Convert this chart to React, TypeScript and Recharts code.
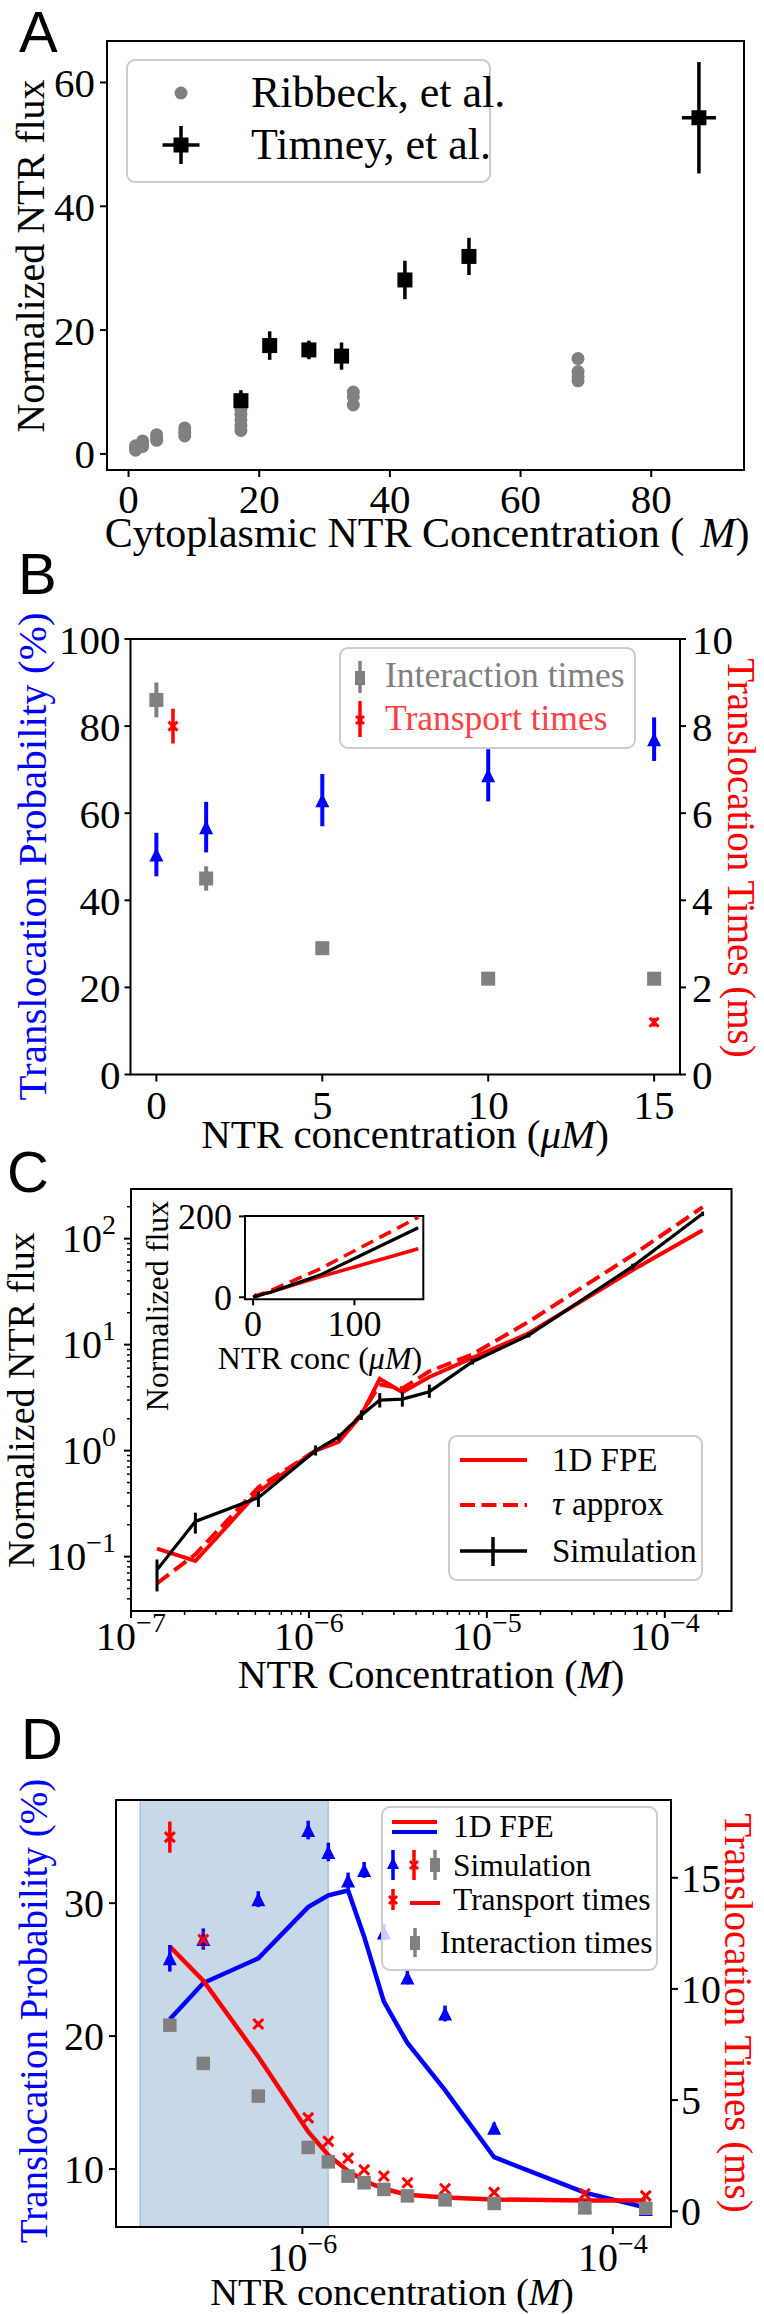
import React from 'react';
import { ComposedChart, Scatter, Line, XAxis, YAxis, ErrorBar, ReferenceArea } from 'recharts';

const SERIF = '"Liberation Serif", "Times New Roman", Times, serif';
const SANS = '"Liberation Sans", Arial, Helvetica, sans-serif';
const BLUE = '#0000ff';
const RED = '#ff0000';
const GRAY = '#808080';

// ---------- panel A: measured flux vs cytoplasmic NTR (uM)
const ribbeckConc = [1.075, 1.075, 1.075, 2.15, 2.15, 2.15, 4.3, 4.3, 4.3, 8.6, 8.6, 8.6, 17.2, 17.2, 17.2, 17.2, 17.2, 34.4, 34.4, 34.4, 68.8, 68.8, 68.8, 68.8];
const ribbeckFlux = [0.6, 1.0, 1.3, 1.2, 1.6, 2.1, 2.2, 2.6, 3.1, 2.9, 3.5, 4.2, 3.8, 4.6, 5.5, 6.4, 7.2, 7.9, 9.2, 10.0, 11.8, 12.5, 13.3, 15.4];
const timneyConc = [17.2, 21.6, 27.6, 32.6, 42.3, 52.1, 87.3];
const timneyConcErr = [0.6, 0.6, 0.6, 0.6, 0.6, 0.6, 2.6];
const timneyFlux = [8.6, 17.5, 16.8, 15.8, 28.1, 31.9, 54.3];
const timneyFluxErr = [1.7, 2.3, 1.5, 2.2, 3.1, 3.0, 9.0];

// ---------- panel B: probability (%) and times (ms) vs NTR (uM)
const concB = [0, 1.5, 5, 10, 15];
const probB = [50.5, 56.8, 63, 68.7, 77];
const probErrB = [5, 5.8, 6, 6, 5];
const interB = [8.6, 4.5, 2.9, 2.2, 2.2];
const interErrB = [0.4, 0.28, 0.1, 0.12, 0.05];
const transConcB = [0.5, 15];
const transB = [8.0, 1.2];
const transErrB = [0.4, 0.1];

// ---------- panels C & D share the simulated concentrations (M)
const concM = [1.4e-7, 2.3e-7, 5.2e-7, 1.09e-6, 1.47e-6, 1.97e-6, 2.5e-6, 3.35e-6, 4.75e-6, 8.3e-6, 1.72e-5, 6.6e-5, 1.63e-4];

// C: normalized flux
const simFlux = [0.075, 0.215, 0.36, 1.0, 1.35, 2.16, 3.0, 3.06, 3.6, 6.9, 12.3, 54.8, 172];
const simLo = [0.047, 0.165, 0.295, 0.9, 1.24, 1.95, 2.55, 2.6, 3.15, 6.5, 11.7, 51, 163];
const simHi = [0.094, 0.26, 0.41, 1.12, 1.45, 2.4, 3.5, 3.55, 4.2, 7.3, 12.9, 58, 180];
const fpeFlux = [0.119, 0.091, 0.41, 1.0, 1.21, 2.16, 4.75, 3.56, 4.95, 7.5, 12.8, 50.5, 120];
const tauFlux = [0.056, 0.105, 0.45, 1.0, 1.31, 2.2, 4.2, 3.86, 5.6, 8.1, 16.5, 70, 198];
const cMajorX = [1e-7, 1e-6, 1e-5, 1e-4];
const cMajorY = [0.1, 1, 10, 100];

// D: probability (%) and times (ms)
const probD = [25.85, 27.3, 30.3, 35.5, 33.85, 31.7, 32.5, 27.8, 24.4, 21.7, 13.1, 7.2, 7.0];
const probErrD = [1.0, 0.8, 0.6, 0.7, 0.7, 0.6, 0.6, 0.6, 0.5, 0.6, 0.4, 0.3, 0.3];
const fpeProbD = [21.26, 23.99, 25.85, 29.7, 30.59, 30.95, 27.48, 22.59, 19.48, 15.93, 10.89, 8.22, 7.1];
const fpeTimeD = [11.91, 10.37, 6.95, 3.58, 2.52, 1.81, 1.37, 1.01, 0.74, 0.62, 0.53, 0.48, 0.48];
const transD = [16.83, 12.22, 8.42, 4.2, 3.14, 2.39, 1.86, 1.58, 1.28, 1.01, 0.85, 0.78, 0.69];
const transErrD = [0.7, 0.35, 0.12, 0.12, 0.1, 0.1, 0.08, 0.08, 0.06, 0.06, 0.05, 0.05, 0.05];
const interD = [8.37, 6.65, 5.18, 2.87, 2.22, 1.58, 1.28, 0.98, 0.69, 0.51, 0.35, 0.15, 0.13];
const interErrD = [0.12, 0.1, 0.1, 0.08, 0.06, 0.05, 0.05, 0.04, 0.04, 0.03, 0.03, 0.03, 0.03];
const shadeD = [9e-8, 1.47e-6];
const dMajorX = [1e-6, 1e-4];

// ---------- helpers
const zip = (xs: number[], ys: number[], extra: Record<string, any[]> = {}) =>
  xs.map((x, i) => {
    const o: any = { x, y: ys[i] };
    Object.keys(extra).forEach((k) => (o[k] = extra[k][i]));
    return o;
  });

const withMinors = (majors: number[], lo: number, hi: number) => {
  const out: number[] = [];
  [majors[0] / 10, ...majors].forEach((m) => {
    for (let k = 1; k < 10; k++) {
      const v = m * k;
      if (v >= lo * 0.9999 && v <= hi) out.push(v);
    }
  });
  return out;
};

const sq = (cx: number, cy: number, s: number, c: string) => <rect x={cx - s / 2} y={cy - s / 2} width={s} height={s} fill={c} />;
const tri = (cx: number, cy: number, s: number, c: string) => (
  <path d={`M${cx},${cy - s / 2}L${cx + s / 2},${cy + s / 2}L${cx - s / 2},${cy + s / 2}Z`} fill={c} />
);
const xm = (cx: number, cy: number, s: number, c: string, w = 3) => (
  <path d={`M${cx - s / 2},${cy - s / 2}L${cx + s / 2},${cy + s / 2}M${cx - s / 2},${cy + s / 2}L${cx + s / 2},${cy - s / 2}`} stroke={c} strokeWidth={w} fill="none" />
);
const shape = (draw: (cx: number, cy: number) => React.ReactElement) => (p: any) =>
  p.cx == null || p.cy == null ? <g /> : draw(p.cx, p.cy);

const tickFont = (size: number) => ({ fontSize: size, fontFamily: SERIF, fill: '#000' });

function LogTick(props: any) {
  const { x, y, payload, side, size, labelOff } = props;
  const v = payload.value;
  const ex = Math.log10(v);
  const major = Math.abs(ex - Math.round(ex)) < 1e-6;
  const len = major ? 7 : 4;
  const e = Math.round(ex);
  const expText = e < 0 ? '\u2212' + Math.abs(e) : String(e);
  if (side === 'bottom') {
    const ay = y - 11;
    return (
      <g>
        <line x1={x} x2={x} y1={ay} y2={ay + len} stroke="#000" strokeWidth={major ? 2 : 1.5} />
        {major && (
          <text x={x} y={ay + labelOff} textAnchor="middle" fontFamily={SERIF} fontSize={size} fill="#000">
            10<tspan dy={-size * 0.45} fontSize={size * 0.7}>{expText}</tspan>
          </text>
        )}
      </g>
    );
  }
  const ax = x + 11;
  return (
    <g>
      <line x1={ax} x2={ax - len} y1={y} y2={y} stroke="#000" strokeWidth={major ? 2 : 1.5} />
      {major && (
        <text x={ax - labelOff} y={y + size * 0.33} textAnchor="end" fontFamily={SERIF} fontSize={size} fill="#000">
          10<tspan dy={-size * 0.45} fontSize={size * 0.7}>{expText}</tspan>
        </text>
      )}
    </g>
  );
}

// ---------- panel A
const ribbeckPts = zip(ribbeckConc, ribbeckFlux);
const timneyPts = zip(timneyConc, timneyFlux, { ex: timneyConcErr, ey: timneyFluxErr });

function PanelA() {
  const xd: [number, number] = [-3.3, 94.2];
  const yd: [number, number] = [-2.6, 66.7];
  return (
    <ComposedChart width={764} height={560} margin={{ top: 41, right: 20, bottom: 30, left: 27 }}>
      <XAxis type="number" dataKey="x" domain={xd} ticks={[0, 20, 40, 60, 80]} allowDataOverflow interval={0} height={60}
        tickSize={7} tickMargin={7} axisLine={false} stroke="#000" tickLine={{ stroke: '#000', strokeWidth: 2 }} tick={tickFont(41)} />
      <YAxis yAxisId="l" type="number" dataKey="y" domain={yd} ticks={[0, 20, 40, 60]} allowDataOverflow interval={0} width={80}
        tickSize={7} tickMargin={5} axisLine={false} stroke="#000" tickLine={{ stroke: '#000', strokeWidth: 2 }} tick={tickFont(41)} />
      <ReferenceArea yAxisId="l" x1={xd[0]} x2={xd[1]} y1={yd[0]} y2={yd[1]} fill="none" stroke="#000" strokeWidth={2} />
      <Scatter yAxisId="l" data={ribbeckPts} isAnimationActive={false} shape={shape((cx, cy) => <circle cx={cx} cy={cy} r={6.5} fill={GRAY} />)} />
      <Scatter yAxisId="l" data={timneyPts} isAnimationActive={false} shape={shape((cx, cy) => sq(cx, cy, 15, '#000'))}>
        <ErrorBar dataKey="ex" direction="x" width={0} stroke="#000" strokeWidth={3.5} />
        <ErrorBar dataKey="ey" direction="y" width={0} stroke="#000" strokeWidth={3.5} />
      </Scatter>
    </ComposedChart>
  );
}

// ---------- panel B
const probPtsB = zip(concB, probB, { err: probErrB });
const interPtsB = zip(concB, interB, { err: interErrB });
const transPtsB = zip(transConcB, transB, { err: transErrB });

function PanelB() {
  const xd: [number, number] = [-0.78, 15.78];
  return (
    <ComposedChart width={764} height={610} margin={{ top: 79, right: 24, bottom: 55.5, left: 40.5 }}>
      <XAxis type="number" dataKey="x" domain={xd} ticks={[0, 5, 10, 15]} allowDataOverflow interval={0} height={40}
        tickSize={7} tickMargin={8} axisLine={false} stroke="#000" tickLine={{ stroke: '#000', strokeWidth: 2 }} tick={tickFont(41)} />
      <YAxis yAxisId="l" type="number" dataKey="y" domain={[0, 100]} ticks={[0, 20, 40, 60, 80, 100]} allowDataOverflow interval={0} width={90}
        tickSize={6} tickMargin={4} axisLine={false} stroke="#000" tickLine={{ stroke: '#000', strokeWidth: 2 }} tick={tickFont(41)} />
      <YAxis yAxisId="r" orientation="right" type="number" dataKey="y" domain={[0, 10]} ticks={[0, 2, 4, 6, 8, 10]} allowDataOverflow interval={0} width={60}
        tickSize={6} tickMargin={6} axisLine={false} stroke="#000" tickLine={{ stroke: '#000', strokeWidth: 2 }} tick={tickFont(41)} />
      <ReferenceArea yAxisId="l" x1={xd[0]} x2={xd[1]} y1={0} y2={100} fill="none" stroke="#000" strokeWidth={2} />
      <Scatter yAxisId="l" data={probPtsB} isAnimationActive={false} shape={shape((cx, cy) => tri(cx, cy, 14, BLUE))}>
        <ErrorBar dataKey="err" direction="y" width={0} stroke={BLUE} strokeWidth={4} />
      </Scatter>
      <Scatter yAxisId="r" data={interPtsB} isAnimationActive={false} shape={shape((cx, cy) => sq(cx, cy, 14, GRAY))}>
        <ErrorBar dataKey="err" direction="y" width={0} stroke={GRAY} strokeWidth={4} />
      </Scatter>
      <Scatter yAxisId="r" data={transPtsB} isAnimationActive={false} shape={shape((cx, cy) => xm(cx, cy, 9, RED, 3))}>
        <ErrorBar dataKey="err" direction="y" width={0} stroke={RED} strokeWidth={3.5} />
      </Scatter>
    </ComposedChart>
  );
}

// ---------- panel C
const simPts = zip(concM, simFlux, { err: simFlux.map((v, i) => [v - simLo[i], simHi[i] - v]) });
const fpePts = zip(concM, fpeFlux);
const tauPts = zip(concM, tauFlux);
const inUM = concM.map((c) => c * 1e6);
const simInset = zip(inUM, simFlux);
const fpeInset = zip(inUM, fpeFlux);
const tauInset = zip(inUM, tauFlux);

function PanelC() {
  const xd: [number, number] = [1e-7, 2.37e-4];
  const yd: [number, number] = [0.0307, 294];
  return (
    <ComposedChart width={764} height={600} margin={{ top: 79, right: 32.5, bottom: 39, left: 31 }}>
      <XAxis type="number" dataKey="x" scale="log" domain={xd} ticks={withMinors(cMajorX, xd[0], xd[1])} allowDataOverflow interval={0}
        height={60} tickSize={7} tickMargin={4} axisLine={false} tickLine={false} tick={<LogTick side="bottom" size={40} labelOff={39} />} />
      <YAxis yAxisId="l" type="number" dataKey="y" scale="log" domain={yd} ticks={withMinors(cMajorY, yd[0], yd[1])} allowDataOverflow interval={0}
        width={100} tickSize={7} tickMargin={4} axisLine={false} tickLine={false} tick={<LogTick side="left" size={40} labelOff={15} />} />
      <ReferenceArea yAxisId="l" x1={xd[0]} x2={xd[1]} y1={yd[0]} y2={yd[1]} fill="none" stroke="#000" strokeWidth={2} />
      <Line yAxisId="l" data={fpePts} dataKey="y" type="linear" stroke={RED} strokeWidth={4} dot={false} isAnimationActive={false} />
      <Line yAxisId="l" data={tauPts} dataKey="y" type="linear" stroke={RED} strokeWidth={4} strokeDasharray="15 6.5" dot={false} isAnimationActive={false} />
      <Line yAxisId="l" data={simPts} dataKey="y" type="linear" stroke="#000" strokeWidth={3.2} dot={false} isAnimationActive={false}>
        <ErrorBar dataKey="err" direction="y" width={0} stroke="#000" strokeWidth={3} />
      </Line>
    </ComposedChart>
  );
}

function InsetC() {
  const xd: [number, number] = [-8, 168];
  const yd: [number, number] = [-5, 201];
  return (
    <ComposedChart width={300} height={190} margin={{ top: 26, right: 26.7, bottom: 40.7, left: 45 }}>
      <XAxis type="number" dataKey="x" domain={xd} ticks={[0, 100]} allowDataOverflow interval={0} height={40}
        tickSize={6} tickMargin={5} axisLine={false} stroke="#000" tickLine={{ stroke: '#000', strokeWidth: 2 }} tick={tickFont(36)} />
      <YAxis yAxisId="l" type="number" dataKey="y" domain={yd} ticks={[0, 200]} allowDataOverflow interval={0} width={50}
        tickSize={6} tickMargin={7} axisLine={false} stroke="#000" tickLine={{ stroke: '#000', strokeWidth: 2 }} tick={tickFont(36)} />
      <ReferenceArea yAxisId="l" x1={xd[0]} x2={xd[1]} y1={yd[0]} y2={yd[1]} fill="none" stroke="#000" strokeWidth={2} />
      <Line yAxisId="l" data={fpeInset} dataKey="y" type="linear" stroke={RED} strokeWidth={3.5} dot={false} isAnimationActive={false} />
      <Line yAxisId="l" data={tauInset} dataKey="y" type="linear" stroke={RED} strokeWidth={3.5} strokeDasharray="13 7" dot={false} isAnimationActive={false} />
      <Line yAxisId="l" data={simInset} dataKey="y" type="linear" stroke="#000" strokeWidth={3.2} dot={false} isAnimationActive={false} />
    </ComposedChart>
  );
}

// ---------- panel D
const probPtsD = zip(concM, probD, { err: probErrD });
const fpeProbPts = zip(concM, fpeProbD);
const fpeTimePts = zip(concM, fpeTimeD);
const transPtsD = zip(concM, transD, { err: transErrD });
const interPtsD = zip(concM, interD, { err: interErrD });

function PanelD() {
  const xd: [number, number] = [6.3e-8, 2.37e-4];
  const yl: [number, number] = [5.64, 37.76];
  return (
    <ComposedChart width={764} height={614} margin={{ top: 100, right: 33, bottom: 37, left: 26 }}>
      <XAxis type="number" dataKey="x" scale="log" domain={xd} ticks={dMajorX} allowDataOverflow interval={0}
        height={50} tickSize={7} tickMargin={4} axisLine={false} tickLine={false} tick={<LogTick side="bottom" size={40} labelOff={44} />} />
      <YAxis yAxisId="l" type="number" dataKey="y" domain={yl} ticks={[10, 20, 30]} allowDataOverflow interval={0} width={90}
        tickSize={7} tickMargin={5} axisLine={false} stroke="#000" tickLine={{ stroke: '#000', strokeWidth: 2 }} tick={tickFont(40)} />
      <YAxis yAxisId="r" orientation="right" type="number" dataKey="y" domain={[-0.71, 18.5]} ticks={[0, 5, 10, 15]} allowDataOverflow interval={0} width={60}
        tickSize={7} tickMargin={3} axisLine={false} stroke="#000" tickLine={{ stroke: '#000', strokeWidth: 2 }} tick={tickFont(40)} />
      <ReferenceArea yAxisId="l" x1={shadeD[0]} x2={shadeD[1]} y1={yl[0]} y2={yl[1]} fill="#4682b4" fillOpacity={0.3} stroke="#4682b4" strokeOpacity={0.35} strokeWidth={1.5} />
      <ReferenceArea yAxisId="l" x1={xd[0]} x2={xd[1]} y1={yl[0]} y2={yl[1]} fill="none" stroke="#000" strokeWidth={2} />
      <Line yAxisId="l" data={fpeProbPts} dataKey="y" type="linear" stroke={BLUE} strokeWidth={4.5} dot={false} isAnimationActive={false} />
      <Line yAxisId="r" data={fpeTimePts} dataKey="y" type="linear" stroke={RED} strokeWidth={4.5} dot={false} isAnimationActive={false} />
      <Scatter yAxisId="l" data={probPtsD} isAnimationActive={false} shape={shape((cx, cy) => tri(cx, cy, 14, BLUE))}>
        <ErrorBar dataKey="err" direction="y" width={0} stroke={BLUE} strokeWidth={3.5} />
      </Scatter>
      <Scatter yAxisId="r" data={transPtsD} isAnimationActive={false} shape={shape((cx, cy) => xm(cx, cy, 10, RED, 3))}>
        <ErrorBar dataKey="err" direction="y" width={0} stroke={RED} strokeWidth={3.5} />
      </Scatter>
      <Scatter yAxisId="r" data={interPtsD} isAnimationActive={false} shape={shape((cx, cy) => sq(cx, cy, 13.5, GRAY))}>
        <ErrorBar dataKey="err" direction="y" width={0} stroke={GRAY} strokeWidth={3.5} />
      </Scatter>
    </ComposedChart>
  );
}

// ---------- text + legends overlay
const T = (p: { x: number; y: number; rot?: number; size: number; color?: string; anchor?: string; family?: string; children: React.ReactNode }) => (
  <text transform={`translate(${p.x},${p.y}) rotate(${p.rot || 0})`} textAnchor={p.anchor || 'middle'} fontFamily={p.family || SERIF}
    fontSize={p.size} fill={p.color || '#000'}>{p.children}</text>
);
const LBox = ({ x, y, w, h }: { x: number; y: number; w: number; h: number }) => (
  <rect x={x} y={y} width={w} height={h} rx={8} fill="#fff" fillOpacity={0.8} stroke="#cccccc" strokeWidth={2} />
);
const vbar = (x: number, y1: number, y2: number, c: string, w = 3.5) => <line x1={x} x2={x} y1={y1} y2={y2} stroke={c} strokeWidth={w} />;
const hbar = (x1: number, x2: number, y: number, c: string, w = 4, dash?: string) => (
  <line x1={x1} x2={x2} y1={y} y2={y} stroke={c} strokeWidth={w} strokeDasharray={dash} />
);

function Overlay() {
  return (
    <svg width={764} height={2314} style={{ position: 'absolute', left: 0, top: 0, pointerEvents: 'none' }}>
      {/* panel letters */}
      <T x={19} y={52} size={58} anchor="start" family={SANS}>A</T>
      <T x={18} y={594} size={58} anchor="start" family={SANS}>B</T>
      <T x={7} y={1192} size={58} anchor="start" family={SANS}>C</T>
      <T x={21} y={1759} size={58} anchor="start" family={SANS}>D</T>

      {/* A */}
      <T x={427} y={547} size={42}>Cytoplasmic NTR Concentration (<tspan dx={16} fontStyle="italic">M</tspan>)</T>
      <T x={44} y={256} rot={-90} size={40}>Normalized NTR flux</T>
      <LBox x={127} y={60} w={363} h={122} />
      <circle cx={181} cy={93} r={6.5} fill={GRAY} />
      <T x={251} y={107} size={44} anchor="start">Ribbeck, et al.</T>
      {hbar(162.5, 199.5, 145, '#000', 3.5)}
      {vbar(181, 126, 164, '#000', 3.5)}
      {sq(181, 145, 15, '#000')}
      <T x={251} y={159} size={44} anchor="start">Timney, et al.</T>

      {/* B */}
      <T x={46} y={856.5} rot={-90} size={41} color={BLUE}>Translocation Probability (%)</T>
      <T x={728} y={858} rot={90} size={39} color={RED}>Translocation Times (ms)</T>
      <T x={405} y={1148} size={41}>NTR concentration (<tspan fontStyle="italic">μM</tspan>)</T>
      <LBox x={340} y={648} w={295} h={100} />
      {vbar(360, 661, 693, GRAY, 3.5)}
      <rect x={355} y={671} width={10} height={14} fill={GRAY} />
      <T x={385} y={687} size={35.5} anchor="start" color={GRAY}>Interaction times</T>
      {vbar(360, 701, 737, RED, 3.5)}
      {xm(360, 720, 8, RED, 3)}
      <T x={385} y={730} size={35.5} anchor="start" color="#ff4040">Transport times</T>

      {/* C */}
      <T x={34} y={1400} rot={-90} size={38}>Normalized NTR flux</T>
      <T x={431} y={1688} size={40}>NTR Concentration (<tspan fontStyle="italic">M</tspan>)</T>
      <T x={168} y={1306} rot={-90} size={32}>Normalized flux</T>
      <T x={320} y={1369} size={32}>NTR conc (<tspan fontStyle="italic">μM</tspan>)</T>
      <LBox x={449} y={1436} w={253} h={144} />
      {hbar(460, 527, 1460, RED, 4)}
      <T x={552} y={1471} size={33} anchor="start">1D FPE</T>
      {hbar(460, 527, 1505, RED, 4, '15 6.5')}
      <T x={552} y={1515} size={33} anchor="start"><tspan fontStyle="italic">τ</tspan> approx</T>
      {hbar(460, 527, 1551, '#000', 3.5)}
      {vbar(493, 1537, 1566, '#000', 3.5)}
      <T x={552} y={1562} size={33} anchor="start">Simulation</T>

      {/* D */}
      <T x={47} y={2011} rot={-90} size={39} color={BLUE}>Translocation Probability (%)</T>
      <T x={725} y={2013} rot={90} size={39} color={RED}>Translocation Times (ms)</T>
      <T x={392} y={2305} size={38.5}>NTR concentration (<tspan fontStyle="italic">M</tspan>)</T>
      <LBox x={382} y={1807} w={275} h={163} />
      {hbar(392, 437, 1822, RED, 4)}
      {hbar(392, 437, 1832, BLUE, 4)}
      <T x={453} y={1837} size={31.5} anchor="start">1D FPE</T>
      {vbar(393, 1850, 1880, BLUE, 3.5)}
      {tri(393, 1863, 12, BLUE)}
      {vbar(414, 1850, 1880, RED, 3.5)}
      {xm(414, 1865, 8, RED, 3)}
      {vbar(435, 1850, 1880, GRAY, 3.5)}
      <rect x={430} y={1858} width={10} height={14} fill={GRAY} />
      <T x={453} y={1876} size={31.5} anchor="start">Simulation</T>
      {vbar(393, 1889, 1910, RED, 3.5)}
      {xm(393, 1900, 8, RED, 3)}
      {hbar(410, 440, 1903, RED, 4)}
      <T x={453} y={1910} size={31.5} anchor="start">Transport times</T>
      {vbar(415, 1928, 1957, GRAY, 3.5)}
      <rect x={410} y={1936} width={10} height={14} fill={GRAY} />
      <T x={440} y={1953} size={31.5} anchor="start">Interaction times</T>
    </svg>
  );
}

export default function App() {
  return (
    <div style={{ position: 'absolute', left: 0, top: 0, width: 764, height: 2314, background: '#fff', overflow: 'hidden' }}>
      <div style={{ position: 'absolute', left: 0, top: 0 }}><PanelA /></div>
      <div style={{ position: 'absolute', left: 0, top: 560 }}><PanelB /></div>
      <div style={{ position: 'absolute', left: 0, top: 1110 }}><PanelC /></div>
      <div style={{ position: 'absolute', left: 150, top: 1190 }}><InsetC /></div>
      <div style={{ position: 'absolute', left: 0, top: 1700 }}><PanelD /></div>
      <Overlay />
    </div>
  );
}
